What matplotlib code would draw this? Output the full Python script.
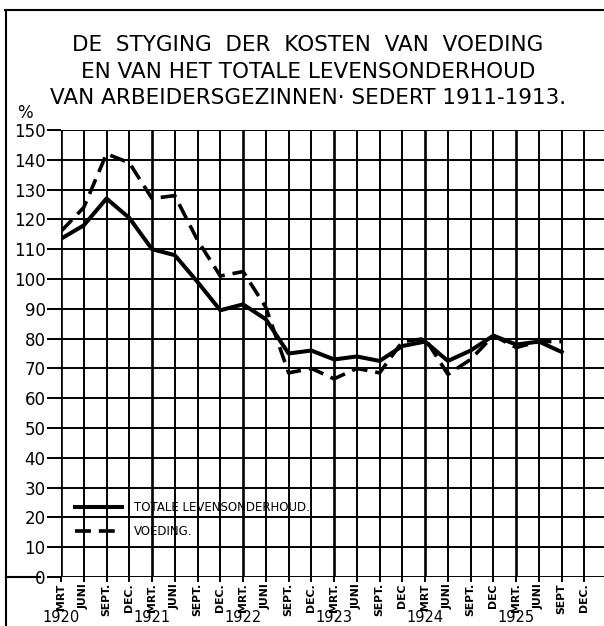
import matplotlib
matplotlib.use("Agg")
import matplotlib.pyplot as plt
from matplotlib.lines import Line2D
from matplotlib.transforms import blended_transform_factory

# kwartalen vanaf maart 1920
maanden = ["MRT", "JUNI", "SEPT.", "DEC.", "MRT.", "JUNI", "SEPT.", "DEC.",
           "MRT.", "JUNI", "SEPT.", "DEC.", "MRT.", "JUNI", "SEPT.", "DEC",
           "MRT", "JUNI", "SEPT.", "DEC", "MRT.", "JUNI", "SEPT", "DEC."]
jaren = ["1920", "1921", "1922", "1923", "1924", "1925"]

# indexcijfers (1911-1913 = 100), maart 1920 t/m sept. 1925
totale = [113.5, 118, 127, 120.5, 110, 108, 99, 89.5, 91.5, 86.5, 75, 76,
          73, 74, 72.5, 77.5, 79, 72.5, 76, 81, 78, 79, 75.5]
voeding = [116, 124, 142, 139, 127, 128, 113, 101, 102.5, 90.5, 68.5, 70,
           66.5, 70, 68.5, 79, 80, 68, 73, 81, 77, 79, 79]

W, H = 604, 626
fig = plt.figure(figsize=(W / 100, H / 100), dpi=100)
plt.rcParams['font.family'] = ['DejaVu Sans']

# plotgebied: x=0 op 61px, y=0 op 577px, y=150 op 130px
ax = fig.add_axes([61 / W, (H - 577) / H, 1 - 61 / W, (577 - 130) / H])
ax.set_xlim(0, 23.86)
ax.set_ylim(0, 150)

# ruitjes
for i in range(len(maanden)):
    ax.axvline(i, color='black', lw=1.9 if i % 4 == 0 else 1.4, zorder=1)
for v in range(0, 151, 10):
    ax.axhline(v, color='black', lw=1.4, zorder=1)

for s in ax.spines.values():
    s.set_visible(False)

x = list(range(len(totale)))
ax.plot(x, totale, color='black', lw=2.9, solid_joinstyle='round',
        label="TOTALE LEVENSONDERHOUD.", zorder=3)
ax.plot(x, voeding, color='black', lw=2.6, dashes=(4.4, 2.2),
        label="VOEDING.", zorder=3)

ax.set_yticks(range(0, 151, 10))
ax.set_yticklabels([str(v) for v in range(0, 151, 10)], fontsize=12)
ax.tick_params(axis='y', length=10, width=1.4, pad=1)

ax.set_xticks(range(len(maanden)))
ax.set_xticklabels(maanden, rotation=90, fontsize=7.8, fontweight='bold')
ax.tick_params(axis='x', length=3.5, width=1.4, pad=1)

tr = blended_transform_factory(ax.transData, ax.transAxes)
for k, jaar in enumerate(jaren):
    ax.text(4 * k, -0.091, jaar, transform=tr, ha='center', va='center',
            fontsize=10.5)

leg = ax.legend(loc='center left', bbox_to_anchor=(0.6, 19.3),
                bbox_transform=ax.transData, frameon=False, fontsize=8.5,
                handlelength=4.0, handletextpad=1.0, labelspacing=0.9,
                borderpad=0, borderaxespad=0)

# titel
titel = ["DE  STYGING  DER  KOSTEN  VAN  VOEDING",
         "EN VAN HET TOTALE LEVENSONDERHOUD",
         "VAN ARBEIDERSGEZINNEN· SEDERT 1911-1913."]
for regel, ypix in zip(titel, [45, 72, 98]):
    fig.text(308 / W, 1 - ypix / H, regel, ha='center', va='center',
             fontsize=15.5)

fig.text(25 / W, 1 - 113 / H, "%", ha='center', va='center', fontsize=12)

# kader
fig.add_artist(Line2D([5 / W, 1], [1 - 10 / H] * 2, color='black', lw=1.5))
fig.add_artist(Line2D([6 / W] * 2, [0, 1 - 10 / H], color='black', lw=1.5))
fig.add_artist(Line2D([6 / W, 40 / W], [(H - 577) / H] * 2, color='black', lw=1.5))

fig.savefig("out.png", dpi=100)
